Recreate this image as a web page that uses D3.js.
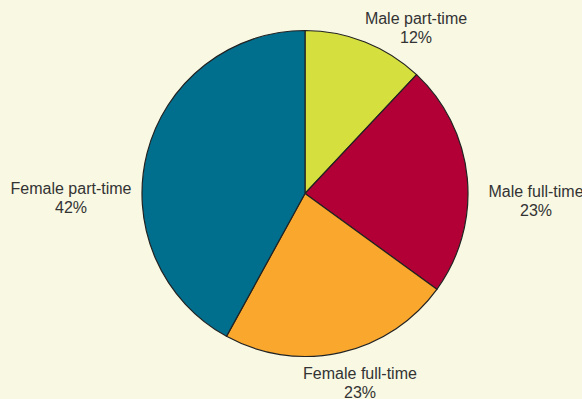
<!DOCTYPE html>
<html>
<head>
<meta charset="utf-8">
<script src="https://cdn.jsdelivr.net/npm/d3@7"></script>
<style>
  html, body { margin: 0; padding: 0; background: #f8f8e3; overflow: hidden; }
  svg { display: block; }
  text { font-family: "Liberation Sans", Arial, sans-serif; font-size: 16px; fill: #333333; }
</style>
</head>
<body>
<svg id="chart" width="582" height="399"></svg>
<script>
const categories = ["Male part-time", "Male full-time", "Female full-time", "Female part-time"];
const values = [12, 23, 23, 42];
const valueLabels = ["12%", "23%", "23%", "42%"];
const colors = ["#d5df3d", "#b20037", "#f9a82d", "#006f8e"];

// label layout (box centre for each slice label, relative to the pie centre)
const labelOffsets = [[111, -166], [231, 7], [55, 189], [-234, 4]];

const W = 582, H = 399;
const cx = 305, cy = 193.5, R = 163;

const svg = d3.select("#chart");
svg.append("rect").attr("width", W).attr("height", H).attr("fill", "#f8f8e3");

const data = categories.map((c, i) => ({ cat: c, value: values[i], label: valueLabels[i], color: colors[i], off: labelOffsets[i] }));

const pie = d3.pie().value(d => d.value).sort(null);
const arc = d3.arc().innerRadius(0).outerRadius(R);

const g = svg.append("g").attr("transform", `translate(${cx},${cy})`);
g.selectAll("path")
  .data(pie(data))
  .join("path")
  .attr("d", arc)
  .attr("fill", d => d.data.color)
  .attr("stroke", "#222222")
  .attr("stroke-width", 1.2)
  .attr("stroke-linejoin", "round");

const lbl = g.selectAll("text.lbl")
  .data(pie(data))
  .join("text")
  .attr("class", "lbl")
  .attr("text-anchor", "middle")
  .attr("transform", d => `translate(${d.data.off[0]},${d.data.off[1]})`);
lbl.append("tspan").attr("x", 0).attr("y", -4).text(d => d.data.cat);
lbl.append("tspan").attr("x", 0).attr("y", 15.5).text(d => d.data.label);
</script>
</body>
</html>
